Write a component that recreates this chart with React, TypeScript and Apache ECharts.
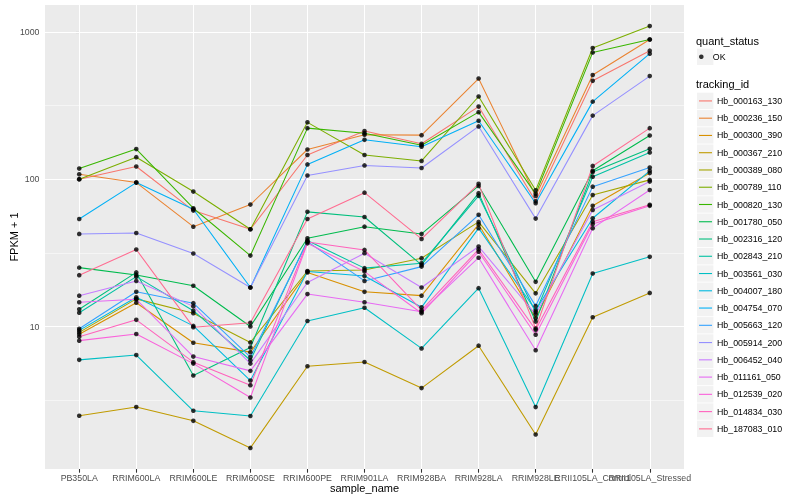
import React, { useEffect, useRef } from "react";
import * as echarts from "echarts";

const categories = [
  "PB350LA", "RRIM600LA", "RRIM600LE", "RRIM600SE", "RRIM600PE", "RRIM901LA",
  "RRIM928BA", "RRIM928LA", "RRIM928LE", "RRII105LA_Control", "RRII105LA_Stressed",
];

const trackingIds = [
  "Hb_000163_130", "Hb_000236_150", "Hb_000300_390", "Hb_000367_210", "Hb_000389_080",
  "Hb_000789_110", "Hb_000820_130", "Hb_001780_050", "Hb_002316_120", "Hb_002843_210",
  "Hb_003561_030", "Hb_004007_180", "Hb_004754_070", "Hb_005663_120", "Hb_005914_200",
  "Hb_006452_040", "Hb_011161_050", "Hb_012539_020", "Hb_014834_030", "Hb_187083_010",
];

const colors = [
  "#F8766D", "#EA8331", "#D89000", "#C09B00", "#A3A500", "#7CAE00", "#39B600", "#00BB4E",
  "#00BF7D", "#00C1A3", "#00BFC4", "#00BAE0", "#00B0F6", "#35A2FF", "#9590FF", "#C77CFF",
  "#E76BF3", "#FA62DB", "#FF62BC", "#FF6C91",
];

// FPKM + 1 per sample, one array per tracking_id
const hb000163_130 = [100, 122, 61.2, 45.7, 146, 212, 174, 311, 70.8, 465, 745];
const hb000236_150 = [108, 94.8, 47.6, 67.2, 159, 200, 199, 482, 77, 509, 887];
const hb000300_390 = [8.86, 14.5, 7.76, 6.7, 23.3, 17.2, 16.2, 49.3, 11.4, 66, 110];
const hb000367_210 = [2.48, 2.84, 2.29, 1.5, 5.37, 5.74, 3.82, 7.41, 1.85, 11.55, 16.9];
const hb000389_080 = [9.13, 15.4, 12.3, 7.8, 23.8, 24.2, 29.1, 51.3, 16.8, 78, 98.9];
const hb000789_110 = [100, 141, 82.4, 45.7, 243, 146, 133, 364, 84, 776, 1094];
const hb000820_130 = [118, 160, 63.5, 30.3, 222, 205, 170, 285, 79.5, 725, 887];
const hb001780_050 = [25.1, 22.4, 18.9, 10.0, 39.7, 47.6, 42.5, 90, 20.1, 114, 198];
const hb002316_120 = [13.1, 23.3, 4.65, 7.2, 60, 55.4, 26.2, 80.4, 10.8, 112, 161];
const hb002843_210 = [12.4, 21.8, 12.8, 5.9, 38.3, 24.9, 26.9, 77.1, 12.5, 104, 152];
const hb003561_030 = [5.94, 6.4, 2.68, 2.47, 10.9, 13.4, 7.1, 18.2, 2.84, 22.9, 29.7];
const hb004007_180 = [9.42, 15.8, 10.1, 4.3, 23.6, 22.0, 13.5, 46.5, 12.9, 54.3, 114];
const hb004754_070 = [53.7, 94.8, 62.5, 18.4, 126, 185, 166, 249, 68.7, 336, 711];
const hb005663_120 = [9.66, 17.2, 14.4, 6.2, 37.7, 20.4, 25.5, 57.3, 13.8, 89, 120];
const hb005914_200 = [42.5, 43.1, 31.3, 18.4, 106, 124, 119, 228, 54, 270, 501];
const hb006452_040 = [16.2, 20.4, 13.7, 5.6, 19.9, 31.4, 18.4, 34.9, 12.1, 61.8, 96.3];
const hb011161_050 = [14.6, 15.3, 6.25, 5.0, 16.6, 14.6, 12.6, 29.3, 6.9, 46.5, 84.5];
const hb012539_020 = [8.02, 8.9, 5.6, 3.3, 36.7, 23.6, 12.3, 32.2, 8.8, 49.7, 65.9];
const hb014834_030 = [8.53, 11.1, 5.73, 4.0, 37.5, 33.1, 12.9, 33.4, 9.5, 51.5, 67.1];
const hb187083_010 = [22.3, 33.3, 9.9, 10.6, 53.7, 81, 39.3, 93, 9.7, 123, 222];

const seriesValues = [
  hb000163_130, hb000236_150, hb000300_390, hb000367_210, hb000389_080,
  hb000789_110, hb000820_130, hb001780_050, hb002316_120, hb002843_210,
  hb003561_030, hb004007_180, hb004754_070, hb005663_120, hb005914_200,
  hb006452_040, hb011161_050, hb012539_020, hb014834_030, hb187083_010,
];

const yMajorTicks = [10, 100, 1000];
const yMinorTicks = [3.1623, 31.623, 316.23];

const FONT = "'Liberation Sans', Arial, Helvetica, sans-serif";

export default function App() {
  const ref = useRef<HTMLDivElement>(null);

  useEffect(() => {
    if (!ref.current) return;
    const chart = echarts.init(ref.current, null, { renderer: "svg" });

    const all = seriesValues.flat();
    const lmin = Math.log10(Math.min(...all));
    const lmax = Math.log10(Math.max(...all));
    const span = lmax - lmin;
    const yMin = Math.pow(10, lmin - 0.05 * span);
    const yMax = Math.pow(10, lmax + 0.05 * span);
    const xTicks = categories.map((_, i) => i);
    // the second-to-last label overlaps the last one (as in the reference);
    // it is drawn by a twin axis so that ECharts does not drop it
    const twinIdx = categories.length - 2;
    const mainLabelTicks = xTicks.filter((i) => i !== twinIdx);

    const lineSeries = trackingIds.map((id, k) => ({
      name: id,
      type: "line",
      symbol: "none",
      data: seriesValues[k].map((v, i) => [i, v]),
      lineStyle: { color: colors[k], width: 1.07 },
      itemStyle: { color: colors[k] },
      z: 2,
      silent: true,
    }));

    const points: number[][] = [];
    seriesValues.forEach((arr) => arr.forEach((v, i) => points.push([i, v])));

    const gridLines = [
      ...yMajorTicks.map((v) => ({ yAxis: v, lineStyle: { color: "#FFFFFF", width: 1.07, type: "solid" } })),
      ...yMinorTicks.map((v) => ({ yAxis: v, lineStyle: { color: "#FFFFFF", width: 0.53, type: "solid" } })),
      ...xTicks.map((v) => ({ xAxis: v, lineStyle: { color: "#FFFFFF", width: 1.07, type: "solid" } })),
    ];

    const keyRects: any[] = [];
    keyRects.push({ type: "rect", shape: { x: 697, y: 48.6, width: 16.4, height: 16.4 }, style: { fill: "#F2F2F2" }, z: 0 });
    trackingIds.forEach((_, i) => {
      const cy = 100.9 + 17.26 * i;
      keyRects.push({ type: "rect", shape: { x: 697, y: cy - 8.2, width: 16.4, height: 16.4 }, style: { fill: "#F2F2F2" }, z: 0 });
    });

    const labelStyle = {
      margin: 4,
      fontSize: 8.8,
      color: "#4D4D4D",
      fontFamily: FONT,
      hideOverlap: false,
      formatter: (v: number) => categories[Math.round(v)] ?? "",
    };

    const option: any = {
      animation: false,
      textStyle: { fontFamily: FONT },
      grid: {
        left: 45, right: 116, top: 5, bottom: 31, show: true, backgroundColor: "#EBEBEB", borderWidth: 0,
        containLabel: false, outerBoundsMode: "none",
      },
      title: [
        { text: "quant_status", left: 696, top: 35, padding: 0, textStyle: { fontSize: 11, fontWeight: "normal", color: "#000", fontFamily: FONT } },
        { text: "tracking_id", left: 696, top: 78, padding: 0, textStyle: { fontSize: 11, fontWeight: "normal", color: "#000", fontFamily: FONT } },
      ],
      legend: [
        {
          data: ["OK"], orient: "vertical", left: 699, top: 48.1, padding: 0, icon: "circle",
          itemWidth: 13, itemHeight: 4.6, itemGap: 0, selectedMode: false,
          itemStyle: { borderWidth: 0 },
          textStyle: { fontSize: 8.8, lineHeight: 17.26, color: "#000", fontFamily: FONT },
        },
        {
          data: trackingIds, orient: "vertical", left: 699, top: 92.3, padding: 0, icon: "rect",
          itemWidth: 13, itemHeight: 1.1, itemGap: 0, selectedMode: false,
          itemStyle: { borderWidth: 0 },
          textStyle: { fontSize: 8.8, lineHeight: 17.26, color: "#000", fontFamily: FONT },
        },
      ],
      graphic: keyRects,
      xAxis: [
        {
          type: "value",
          position: "bottom",
          offset: 0,
          min: -0.6,
          max: 10.6,
          name: "sample_name",
          nameLocation: "middle",
          nameGap: 13,
          nameMoveOverlap: false,
          nameTextStyle: { fontSize: 11, color: "#000", fontFamily: FONT },
          axisLine: { show: false },
          axisTick: { show: true, length: 3.7, lineStyle: { color: "#333333", width: 1.07 }, customValues: xTicks },
          axisLabel: { ...labelStyle, customValues: mainLabelTicks, showMinLabel: true, showMaxLabel: true },
          splitLine: { show: false },
        },
        {
          type: "value",
          position: "bottom",
          offset: 0,
          min: -0.6,
          max: 10.6,
          axisLine: { show: false },
          axisTick: { show: false },
          axisLabel: { ...labelStyle, customValues: [twinIdx], showMinLabel: true, showMaxLabel: true },
          splitLine: { show: false },
        },
      ],
      yAxis: {
        type: "log",
        logBase: 10,
        min: yMin,
        max: yMax,
        name: "FPKM + 1",
        nameLocation: "middle",
        nameGap: 26,
        nameMoveOverlap: false,
        nameRotate: 90,
        nameTextStyle: { fontSize: 11, color: "#000", fontFamily: FONT },
        axisLine: { show: false },
        axisTick: { show: true, length: 3.7, lineStyle: { color: "#333333", width: 1.07 }, customValues: yMajorTicks },
        axisLabel: {
          customValues: yMajorTicks,
          margin: 5.5,
          fontSize: 8.8,
          color: "#4D4D4D",
          fontFamily: FONT,
          hideOverlap: false,
          formatter: (v: number) => String(Math.round(v)),
        },
        splitLine: { show: false },
        minorSplitLine: { show: false },
      },
      series: [
        {
          name: "__grid",
          type: "line",
          data: [],
          silent: true,
          markLine: {
            silent: true,
            z: 1,
            symbol: ["none", "none"],
            label: { show: false },
            emphasis: { disabled: true },
            animation: false,
            data: gridLines,
          },
        },
        ...lineSeries,
        {
          name: "OK",
          type: "scatter",
          data: points,
          symbol: "circle",
          symbolSize: 4.6,
          itemStyle: { color: "#000000" },
          z: 3,
          silent: true,
        },
      ],
    };

    chart.setOption(option);
    return () => chart.dispose();
  }, []);

  return <div ref={ref} style={{ position: "fixed", left: 0, top: 0, width: 800, height: 500 }} />;
}
